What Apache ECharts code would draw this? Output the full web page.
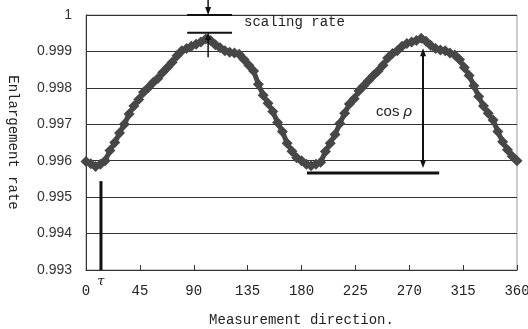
<!DOCTYPE html>
<html><head><meta charset="utf-8">
<script src="https://cdn.jsdelivr.net/npm/echarts@6/dist/echarts.min.js"></script>
<style>html,body{margin:0;padding:0;background:#fff}#c{width:528px;height:329px}</style>
</head><body><div id="c"></div>
<script>
var directions = [0,4,8,12,16,20,24,28,32,36,40,44,48,52,56,60,64,68,72,76,80,84,88,92,96,100,104,108,112,116,120,124,128,132,136,140,144,148,152,156,160,164,168,172,176,180,184,188,192,196,200,204,208,212,216,220,224,228,232,236,240,244,248,252,256,260,264,268,272,276,280,284,288,292,296,300,304,308,312,316,320,324,328,332,336,340,344,348,352,356,360];
var rates = [0.99598,0.99592,0.99584,0.99590,0.99600,0.99628,0.99650,0.99676,0.99700,0.99728,0.99750,0.99768,0.99788,0.99800,0.99815,0.99826,0.99842,0.99856,0.99870,0.99888,0.99902,0.99908,0.99914,0.99920,0.99926,0.99934,0.99930,0.99918,0.99910,0.99902,0.99898,0.99896,0.99892,0.99878,0.99862,0.99846,0.99810,0.99780,0.99758,0.99735,0.99705,0.99680,0.99648,0.99626,0.99608,0.99600,0.99590,0.99586,0.99590,0.99596,0.99625,0.99648,0.99672,0.99702,0.99730,0.99756,0.99770,0.99792,0.99806,0.99820,0.99834,0.99846,0.99862,0.99882,0.99894,0.99902,0.99914,0.99922,0.99926,0.99930,0.99936,0.99928,0.99916,0.99908,0.99904,0.99902,0.99896,0.99890,0.99878,0.99856,0.99834,0.99806,0.99776,0.99750,0.99730,0.99712,0.99680,0.99652,0.99630,0.99612,0.99600];
var xTicks = [0,45,90,135,180,225,270,315,360];
var yTicks = [0.993,0.994,0.995,0.996,0.997,0.998,0.999,1];

// annotations in data coordinates
var scaleTopArrow = [[102,1.00041],[102,1.0]];
var scaleBarTop = [[84.5,1.0],[122,1.0]];
var scaleBarLow = [[84.5,0.99951],[122,0.99951]];
var scaleUpArrow = [[102,0.99884],[102,0.99953]];
var scaleLabelPos = [132,0.99981];
var tauBar = [[12.5,0.99544],[12.5,0.993]];
var tauLabelPos = [12.5,0.99285];
var cosArrow = [[281.5,0.99909],[281.5,0.99580]];
var cosBase = [[184.6,0.99566],[295,0.99566]];
var cosLabelPos = [242.3,0.99734];

var mono = '"Liberation Mono", "DejaVu Sans Mono", monospace';
var chart = echarts.init(document.getElementById('c'));
var pts = directions.map(function(d,i){return [d,rates[i]];});
chart.setOption({
  animation:false,
  backgroundColor:'#fff',
  grid:{left:86,right:11,top:15,bottom:59,show:true,borderColor:'#999',borderWidth:1,containLabel:false,outerBoundsMode:'none'},
  xAxis:{type:'value',min:0,max:360,interval:45,
    name:'Measurement direction.',nameLocation:'middle',nameGap:43,
    nameTextStyle:{fontFamily:mono,fontSize:14,color:'#222'},
    axisLine:{show:true,lineStyle:{color:'#333'}},
    axisTick:{show:true,inside:true,length:5,lineStyle:{color:'#333'}},
    axisLabel:{fontFamily:mono,fontSize:14,color:'#222',margin:14},
    splitLine:{show:false}},
  yAxis:{type:'value',min:0.993,max:1,interval:0.001,
    name:'Enlargement rate',nameLocation:'middle',nameGap:66,nameRotate:-90,
    nameTextStyle:{fontFamily:mono,fontSize:14,color:'#222'},
    axisLine:{show:true,lineStyle:{color:'#333'}},
    axisTick:{show:false},
    axisLabel:{fontFamily:'"Liberation Sans", Arial, sans-serif',fontSize:14,color:'#333',margin:14,
      formatter:function(v){return v>0.9995?'1':v.toFixed(3);}},
    splitLine:{show:true,lineStyle:{color:'#333',width:1}}},
  series:[{type:'line',data:pts,symbol:'diamond',symbolSize:11,showAllSymbol:true,
    itemStyle:{color:'#474747'},lineStyle:{color:'#474747',width:5}}]
});

function px(p){return chart.convertToPixel({gridIndex:0},p);}
var g=[];
function seg(a,b,w){var A=px(a),B=px(b);
  g.push({type:'line',shape:{x1:A[0],y1:A[1],x2:B[0],y2:B[1]},style:{stroke:'#111',lineWidth:w},z:100});}
function head(tip,from){var T=px(tip),F=px(from);
  var dx=T[0]-F[0],dy=T[1]-F[1],L=Math.sqrt(dx*dx+dy*dy);dx/=L;dy/=L;
  var len=8,hw=3;
  var bx=T[0]-dx*len,by=T[1]-dy*len;
  g.push({type:'polygon',shape:{points:[[T[0],T[1]],[bx-dy*hw,by+dx*hw],[bx+dy*hw,by-dx*hw]]},style:{fill:'#111'},z:101});}
function arrow(a,b,both,w){var A=px(a),B=px(b);
  var dx=B[0]-A[0],dy=B[1]-A[1],L=Math.sqrt(dx*dx+dy*dy);
  var bb=[B[0]-dx/L*6,B[1]-dy/L*6],aa=both?[A[0]+dx/L*6,A[1]+dy/L*6]:A;
  g.push({type:'line',shape:{x1:aa[0],y1:aa[1],x2:bb[0],y2:bb[1]},style:{stroke:'#111',lineWidth:w},z:100});
  head(b,a); if(both) head(a,b);}
arrow(scaleTopArrow[0],scaleTopArrow[1],false,1.5);
seg(scaleBarTop[0],scaleBarTop[1],2);
seg(scaleBarLow[0],scaleBarLow[1],2);
arrow(scaleUpArrow[0],scaleUpArrow[1],false,1.5);
seg(tauBar[0],tauBar[1],3);
arrow(cosArrow[0],cosArrow[1],true,2);
seg(cosBase[0],cosBase[1],3);
var sp=px(scaleLabelPos);
g.push({type:'text',x:sp[0],y:sp[1],style:{text:'scaling rate',fontFamily:mono,fontSize:14,fill:'#222',textAlign:'left',textVerticalAlign:'middle'},z:102});
var tp=px(tauLabelPos);
g.push({type:'text',x:tp[0],y:tp[1],style:{text:'τ',fontFamily:'"DejaVu Serif", serif',fontStyle:'italic',fontSize:13,fill:'#222',textAlign:'center',textVerticalAlign:'top'},z:102});
var cp=px(cosLabelPos);
g.push({type:'text',x:cp[0],y:cp[1],style:{text:'cos {i|ρ}',rich:{i:{fontStyle:'italic',fontFamily:'"Liberation Sans", Arial, sans-serif',fontSize:15,fill:'#222'}},fontFamily:'"Liberation Sans", Arial, sans-serif',fontSize:15,fill:'#222',textAlign:'left',textVerticalAlign:'middle'},z:102});
chart.setOption({graphic:g});
</script></body></html>
